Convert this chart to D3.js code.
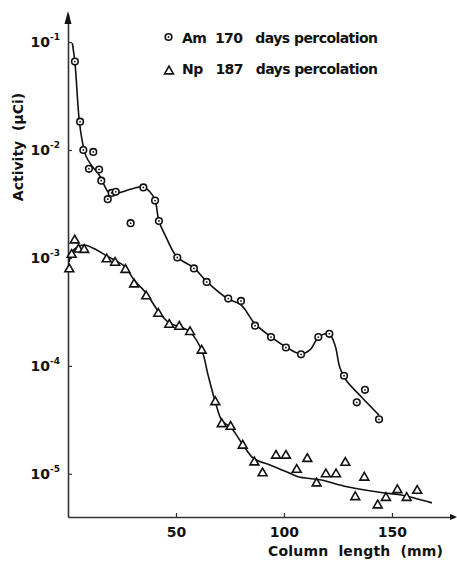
<!DOCTYPE html>
<html>
<head>
<meta charset="utf-8">
<script src="https://d3js.org/d3.v7.min.js"></script>
<style type="text/css">
    body { margin: 0; background: #fff; }
    text { font-family: "DejaVu Sans", sans-serif; font-weight: bold; fill: #111; }
    .curve { fill: none; stroke: #111; stroke-width: 1.6px; }
    .mark { fill: #fff; stroke: #111; stroke-width: 1.6px; }
</style>
</head>
<body>
<svg width="457" height="563"></svg>
<script>
// Am, 170 days percolation (measured points)
var amMm  = [3.2, 5.6, 7.1, 11.7, 9.7, 14.4, 15.4, 18.4, 20.2, 22.1, 34.9, 40.3, 42.1, 29.0, 50.6, 58.3, 64.2, 74.2, 80.1, 86.6, 94.0, 100.9, 107.9, 115.9, 121.0, 127.8, 137.5, 133.7, 144.0];
var amAct = [6.6e-2, 1.83e-2, 1.0e-2, 9.6e-3, 6.7e-3, 6.6e-3, 5.2e-3, 3.5e-3, 4.0e-3, 4.1e-3, 4.5e-3, 3.4e-3, 2.2e-3, 2.1e-3, 1.01e-3, 8.0e-4, 6.0e-4, 4.2e-4, 4.0e-4, 2.36e-4, 1.85e-4, 1.48e-4, 1.28e-4, 1.85e-4, 1.98e-4, 8.1e-5, 6.0e-5, 4.6e-5, 3.2e-5];

// Np, 187 days percolation (measured points)
var npMm  = [0.6, 1.7, 3.1, 4.9, 7.5, 17.9, 21.8, 26.6, 30.6, 36.2, 41.8, 46.9, 51.5, 56.5, 61.9, 68.2, 71.2, 75.3, 80.9, 86.3, 90.1, 96.3, 100.9, 105.9, 110.8, 115.1, 119.4, 124.1, 128.4, 133.0, 137.2, 143.4, 147.2, 152.5, 156.8, 161.7];
var npAct = [8.0e-4, 1.09e-3, 1.48e-3, 1.22e-3, 1.21e-3, 9.9e-4, 9.2e-4, 7.9e-4, 5.8e-4, 4.5e-4, 3.1e-4, 2.45e-4, 2.35e-4, 2.1e-4, 1.41e-4, 4.7e-5, 2.94e-5, 2.78e-5, 1.86e-5, 1.3e-5, 1.03e-5, 1.5e-5, 1.5e-5, 1.11e-5, 1.4e-5, 8.3e-6, 1.01e-5, 1.01e-5, 1.29e-5, 6.2e-6, 9.4e-6, 5.2e-6, 6.1e-6, 7.2e-6, 6.1e-6, 7.1e-6];

// hand drawn fitted curves
var amCurveMm  = [2.0, 3.2, 5.1, 6.5, 8.3, 11.1, 14.4, 16.7, 19.0, 21.8, 26.4, 31.0, 34.7, 38.0, 40.3, 42.1, 45.4, 50.5, 58.3, 64.4, 74.1, 80.1, 86.6, 94.0, 100.9, 107.9, 112.5, 115.7, 120.8, 123.6, 125.9, 128.7, 136.1, 144.0];
var amCurveAct = [9.8e-2, 6.5e-2, 1.98e-2, 1.24e-2, 8.8e-3, 7.1e-3, 5.9e-3, 4.75e-3, 4.0e-3, 3.92e-3, 4.17e-3, 4.45e-3, 4.54e-3, 4.08e-3, 3.44e-3, 2.2e-3, 1.56e-3, 1.02e-3, 8.1e-4, 6.0e-4, 4.17e-4, 3.67e-4, 2.45e-4, 1.86e-4, 1.5e-4, 1.29e-4, 1.44e-4, 1.82e-4, 1.98e-4, 1.56e-4, 9.6e-5, 7.4e-5, 5.1e-5, 3.5e-5];
var npCurveMm  = [0.5, 1.9, 4.2, 7.4, 12.5, 18.1, 22.2, 26.4, 30.6, 36.1, 41.7, 46.8, 51.9, 56.5, 62.0, 64.8, 68.1, 71.3, 75.5, 81.0, 86.1, 93.5, 101.4, 106.5, 116.7, 129.2, 145.8, 153.7, 168.5];
var npCurveAct = [9.2e-4, 1.14e-3, 1.26e-3, 1.32e-3, 1.21e-3, 1.04e-3, 9.4e-4, 8.3e-4, 6.25e-4, 4.74e-4, 3.23e-4, 2.5e-4, 2.3e-4, 2.06e-4, 1.38e-4, 8.3e-5, 4.74e-5, 3.1e-5, 2.67e-5, 1.86e-5, 1.38e-5, 1.21e-5, 1.04e-5, 9.4e-6, 8.8e-6, 7.6e-6, 6.67e-6, 6.4e-6, 5.38e-6];

var xTicks = [50, 100, 150];
var yTicks = [1e-1, 1e-2, 1e-3, 1e-4, 1e-5];
var yTickExp = ["-1", "-2", "-3", "-4", "-5"];
var legendLabels = ["Am  170   days percolation", "Np   187   days percolation"];

var svg = d3.select("svg");

var x = d3.scaleLinear().domain([0, 179]).range([68, 454.6]);
var y = d3.scaleLog().domain([Math.pow(10, -5.4), Math.pow(10, -0.74)]).range([517, 14]);

// x axis
var xAxis = svg.append("g")
    .attr("transform", "translate(0,517)")
    .call(d3.axisBottom(x).tickValues(xTicks).tickSizeInner(-4).tickSizeOuter(0).tickPadding(10));
xAxis.select(".domain").attr("stroke", "#333").attr("stroke-width", 1.4);
xAxis.selectAll(".tick line").attr("stroke", "#333").attr("stroke-width", 1.2);
xAxis.selectAll(".tick text").attr("font-size", 14).attr("font-family", "DejaVu Sans").attr("font-weight", "bold").attr("fill", "#111");

svg.append("path")
    .attr("d", "M450,514 L457,517 L450,520 Z")
    .attr("fill", "#111");

// y axis
var yAxis = svg.append("g")
    .attr("transform", "translate(68,0)")
    .call(d3.axisLeft(y).tickValues(yTicks).tickSizeInner(-4).tickSizeOuter(0).tickPadding(10));
yAxis.select(".domain").attr("stroke", "#333").attr("stroke-width", 1.6);
yAxis.selectAll(".tick line").attr("stroke", "#333").attr("stroke-width", 1.2);
yAxis.selectAll(".tick text").each(function(d, i) {
    var t = d3.select(this).text("")
        .attr("font-family", "DejaVu Sans").attr("font-weight", "bold").attr("fill", "#111")
        .attr("font-size", 14).attr("x", -8).attr("dy", "0.35em");
    t.append("tspan").text("10");
    t.append("tspan").attr("font-size", 9).attr("dy", -7).text(yTickExp[i]);
});

svg.append("path")
    .attr("d", "M64.5,24 L68,11 L71.5,24 Z")
    .attr("fill", "#111");

// axis titles
svg.append("text")
    .attr("transform", "translate(23,147) rotate(-90)")
    .attr("text-anchor", "middle")
    .attr("font-size", 14)
    .style("white-space", "pre")
    .text("Activity  (\u03BCCi)");

svg.append("text")
    .attr("x", 268)
    .attr("y", 556)
    .attr("font-size", 14)
    .attr("textLength", 175)
    .attr("lengthAdjust", "spacing")
    .style("white-space", "pre")
    .text("Column  length  (mm)");

// curves
var line = d3.line()
    .x(function(d) { return x(d[0]); })
    .y(function(d) { return y(d[1]); })
    .curve(d3.curveCatmullRom.alpha(0.5));

svg.append("path")
    .datum(d3.zip(amCurveMm, amCurveAct))
    .attr("class", "curve")
    .attr("d", line);

svg.append("path")
    .datum(d3.zip(npCurveMm, npCurveAct))
    .attr("class", "curve")
    .attr("d", line);

// markers
function circleMark(g, cx, cy) {
    g.append("circle").attr("class", "mark").attr("cx", cx).attr("cy", cy).attr("r", 3.3);
    g.append("circle").attr("cx", cx).attr("cy", cy).attr("r", 0.9).attr("fill", "#111");
}
var tri = d3.symbol().type(d3.symbolTriangle).size(34);
function triMark(g, cx, cy) {
    g.append("path").attr("class", "mark").attr("d", tri)
        .attr("transform", "translate(" + cx + "," + (cy + 0.8) + ")");
}

var gNp = svg.append("g");
d3.zip(npMm, npAct).forEach(function(d) { triMark(gNp, x(d[0]), y(d[1])); });

var gAm = svg.append("g");
d3.zip(amMm, amAct).forEach(function(d) { circleMark(gAm, x(d[0]), y(d[1])); });

// legend
var legend = svg.append("g");
circleMark(legend, 168.5, 37);
triMark(legend, 169, 70.5);
legend.selectAll("text.leg")
    .data(legendLabels)
    .enter().append("text")
    .attr("class", "leg")
    .attr("x", 182)
    .attr("y", function(d, i) { return 43 + i * 31; })
    .attr("font-size", 14)
    .attr("textLength", 196)
    .attr("lengthAdjust", "spacing")
    .style("white-space", "pre")
    .text(function(d) { return d; });
</script>
</body>
</html>
